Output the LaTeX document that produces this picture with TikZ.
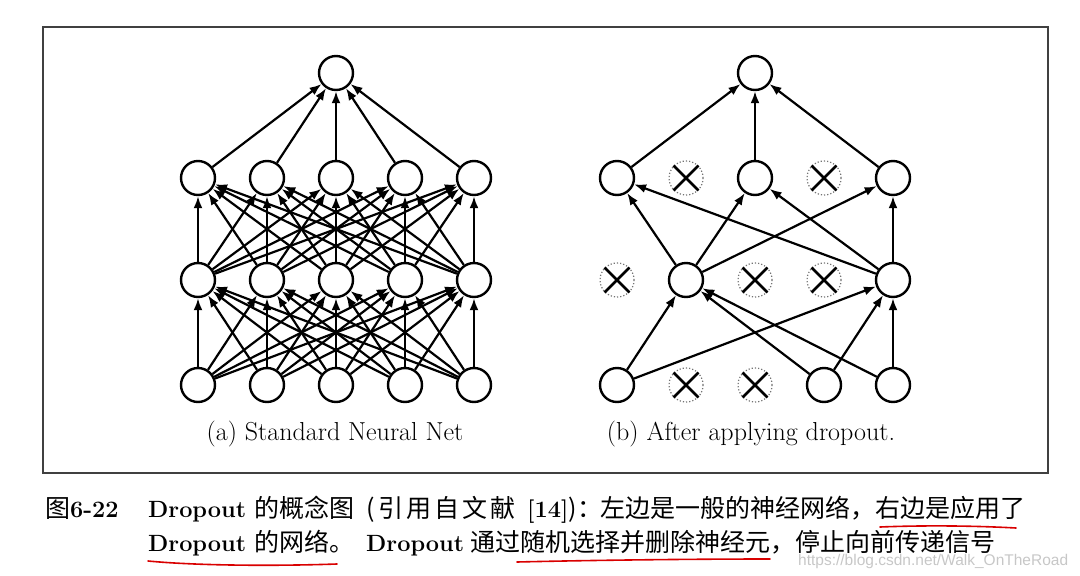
\documentclass[tikz,border=0pt]{standalone}
\usepackage{fontspec}
\newfontfamily\cjk{Noto Sans CJK SC}
\newfontfamily\wmfont{Liberation Sans}
\usetikzlibrary{arrows.meta}
\newcommand{\cj}[1]{{\cjk\fontsize{25}{26}\selectfont #1}}
\newcommand{\bl}[1]{{\bfseries\fontsize{23.5}{26}\selectfont #1}}
\begin{document}
\begin{tikzpicture}[x=1pt,y=-1pt,
  neuron/.style={circle,draw=black,line width=2.4pt,minimum size=34pt,inner sep=0pt,fill=white},
  dropped/.style={circle,draw=black!55,dotted,line width=1.2pt,minimum size=34pt,inner sep=0pt,fill=white},
  xline/.style={line width=2.6pt,black},
  conn/.style={line width=2.2pt,-{Latex[length=12pt,width=9pt]}},
  sub/.style={anchor=base,inner sep=0pt,font=\fontsize{26}{27}\selectfont},
  capseg/.style={anchor=base west,inner sep=0pt},
  ul/.style={red!85!black,line width=1.6pt,line cap=round},
  frame/.style={draw=black!75,line width=1.5pt}
]
\useasboundingbox (0,0) rectangle (1080,576);
\draw[frame] (43,27) rectangle (1048,473);

% ---------- (a) standard network ----------
\node[neuron] (at) at (336,73) {};
\foreach \i/\x in {1/198,2/267,3/336,4/405,5/474}{
  \node[neuron] (ah\i) at (\x,178) {};
  \node[neuron] (ag\i) at (\x,280) {};
  \node[neuron] (ai\i) at (\x,385) {};
}
\foreach \i in {1,...,5}{
  \draw[conn] (ah\i) -- (at);
  \foreach \j in {1,...,5}{
    \draw[conn] (ag\i) -- (ah\j);
    \draw[conn] (ai\i) -- (ag\j);
  }
}
\node[sub] (capa) at (335,440) {(a) Standard Neural Net};

% ---------- (b) dropout network ----------
\node[neuron] (bt) at (755,73) {};
\node[neuron] (bh1) at (617,178) {};
\node[dropped] (bh2) at (686,178) {};
\node[neuron] (bh3) at (755,178) {};
\node[dropped] (bh4) at (824,178) {};
\node[neuron] (bh5) at (893,178) {};
\node[dropped] (bg1) at (617,280) {};
\node[neuron] (bg2) at (686,280) {};
\node[dropped] (bg3) at (755,280) {};
\node[dropped] (bg4) at (824,280) {};
\node[neuron] (bg5) at (893,280) {};
\node[neuron] (bi1) at (617,385) {};
\node[dropped] (bi2) at (686,385) {};
\node[dropped] (bi3) at (755,385) {};
\node[neuron] (bi4) at (824,385) {};
\node[neuron] (bi5) at (893,385) {};
\foreach \n in {bh2,bh4,bg1,bg3,bg4,bi2,bi3}{
  \draw[xline] (\n.north east) -- (\n.south west);
  \draw[xline] (\n.north west) -- (\n.south east);
}
\foreach \h in {bh1,bh3,bh5}{ \draw[conn] (\h) -- (bt); }
\foreach \g in {bg2,bg5}{
  \foreach \h in {bh1,bh3,bh5}{ \draw[conn] (\g) -- (\h); }
}
\foreach \i in {bi1,bi4,bi5}{
  \foreach \g in {bg2,bg5}{ \draw[conn] (\i) -- (\g); }
}
\node[sub] (capb) at (751,440) {(b) After applying dropout.};

% ---------- caption ----------
\node[capseg] (fignum) at (45,517) {\cj{图}\bl{6-22}};
\node[capseg] (a1) at (148,517) {\bl{Dropout}};
\node[capseg] (a2) at (254,517) {\cj{的概念图}};
\node[capseg] (a3) at (366,517) {\cj{(}};
\node[capseg] (a3b) at (378,517) {\cj{引\hspace{3pt}用\hspace{3pt}自\hspace{3pt}文\hspace{3pt}献}};
\node[capseg] (a4) at (527,517) {\bl{[14]}};
\node[capseg] (a5) at (568,517) {\cj{)}};
\node[capseg] (a5b) at (577,517) {\cj{：}};
\node[capseg] (a6) at (600,517) {\cj{左边是一般的神经网络，右边是应用了}};

\node[capseg] (b1) at (148,551) {\bl{Dropout}};
\node[capseg] (b2) at (254,551) {\cj{的网络。}};
\node[capseg] (b3) at (366,551) {\bl{Dropout}};
\node[capseg] (b4) at (470,551) {\cj{通过随机选择并删除神经元，停止向前传递信号}};

\draw[ul] (880,527) .. controls (930,525) and (980,526) .. (1016,528);
\draw[ul] (148,561) .. controls (200,566) and (280,566) .. (337,564);
\draw[ul] (517,562) .. controls (600,560) and (700,559) .. (770,559);

\node[anchor=base west,inner sep=0pt,text=black!22] (wm) at (798,565)
  {\wmfont\fontsize{15.5}{16}\selectfont https://blog.csdn.net/Walk\_OnTheRoad};
\end{tikzpicture}
\end{document}
